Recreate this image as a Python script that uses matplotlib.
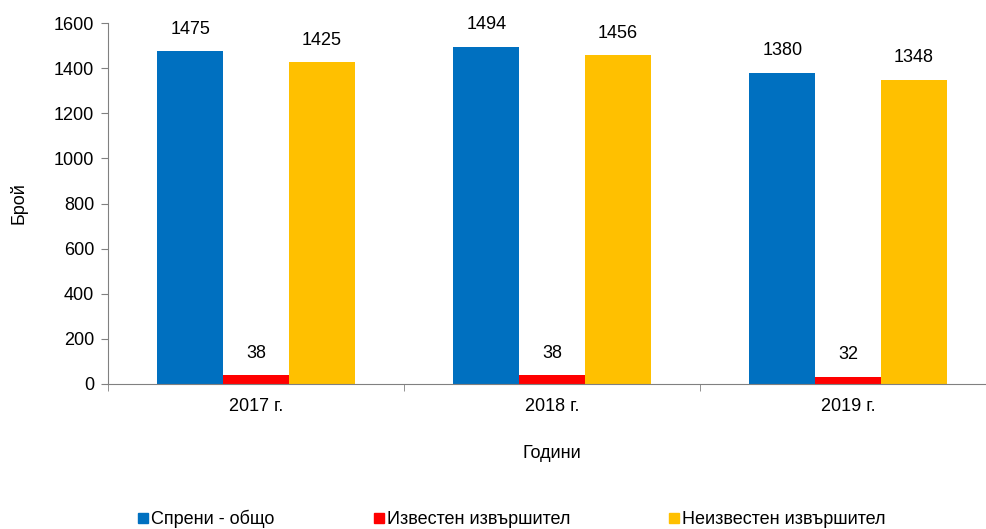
import matplotlib.pyplot as plt
import numpy as np
from matplotlib.lines import Line2D

plt.rcParams['font.family'] = ['Liberation Sans', 'DejaVu Sans']

years = ['2017 г.', '2018 г.', '2019 г.']
series_names = ['Спрени - общо', 'Известен извършител', 'Неизвестен извършител']
total = [1475, 1494, 1380]
known = [38, 38, 32]
unknown = [1425, 1456, 1348]
colors = ['#0070C0', '#FF0000', '#FFC000']
fs = 13

fig = plt.figure(figsize=(9.87, 5.29), dpi=100)
ax = fig.add_axes([108 / 987, 1 - 384 / 529, (996 - 108) / 987, 361 / 529])

x = np.arange(len(years))
w = 0.222
for i, (vals, name, c) in enumerate(zip([total, known, unknown], series_names, colors)):
    pos = x + (i - 1) * w
    ax.bar(pos, vals, width=w, color=c, label=name, clip_on=False)
    for p, v in zip(pos, vals):
        ax.text(p, v + 60, str(v), ha='center', va='bottom', fontsize=fs)

ax.set_xlim(-0.5, 2.5)
ax.set_ylim(0, 1600)
ax.set_yticks(range(0, 1601, 200))
ax.set_xticks(x)
ax.set_xticklabels(years, fontsize=fs)
ax.set_xticks([-0.5, 0.5, 1.5, 2.5], minor=True)
ax.tick_params(axis='x', which='major', length=0, pad=10)
ax.tick_params(axis='x', which='minor', length=5, direction='out', color='#808080')
ax.tick_params(axis='y', labelsize=fs, length=5, color='#808080', pad=5)
for s in ['top', 'right']:
    ax.spines[s].set_visible(False)
for s in ['left', 'bottom']:
    ax.spines[s].set_color('#808080')
ax.set_ylabel('Брой', fontsize=fs, labelpad=19)
ax.set_xlabel('Години', fontsize=fs, labelpad=22)

hs = [Line2D([], [], marker='s', ls='none', color=c, markersize=6.5) for c in colors]
fig.legend(hs, series_names, loc='center', bbox_to_anchor=(0.517, 1 - 519 / 529),
           ncol=3, frameon=False, fontsize=fs, handletextpad=0.0,
           columnspacing=5.3, handlelength=0.9)

fig.savefig('out.png', dpi=100)
